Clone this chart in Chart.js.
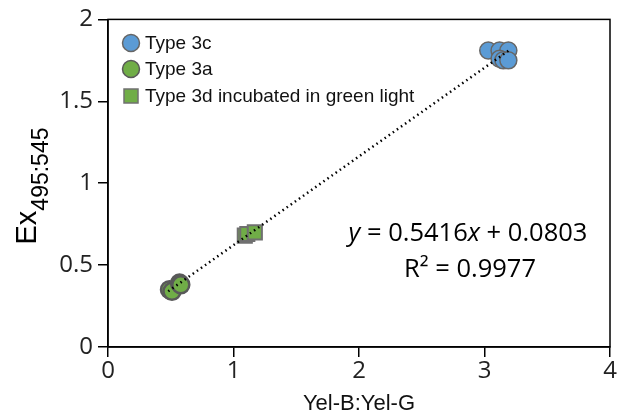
<!DOCTYPE html>
<html>
<head>
<meta charset="utf-8">
<script src="https://cdn.jsdelivr.net/npm/chart.js@4/dist/chart.umd.min.js"></script>
<style>
  html, body { margin: 0; padding: 0; background: #fff; }
  #wrap { width: 622px; height: 417px; }
</style>
</head>
<body>
<div id="wrap"><canvas id="grafico" width="622" height="417"></canvas></div>
<script>
// valores
var type3cX = [3.03, 3.12, 3.19, 3.12, 3.15, 3.19]
var type3cY = [1.81, 1.81, 1.81, 1.76, 1.75, 1.75]
var type3aX = [0.49, 0.51, 0.57, 0.58]
var type3aY = [0.35, 0.34, 0.39, 0.38]
var type3dX = [1.09, 1.11, 1.17]
var type3dY = [0.68, 0.69, 0.70]
var slope = 0.5416
var intercept = 0.0803
var rSquared = 0.9977
var trendX = [0.48, 3.2]
var xTicks = [0, 1, 2, 3, 4]
var yTicks = [0, 0.5, 1, 1.5, 2]
var legendLabels = ["Type 3c", "Type 3a", "Type 3d incubated in green light"]

function pares(xs, ys){
    return xs.map(function(x, i){ return { x: x, y: ys[i] } })
}

var trendData = trendX.map(function(x){ return { x: x, y: slope * x + intercept } })

var tickFont = { family: "Open Sans", size: 24 }

// caixa em volta da area, legenda, titulo y e equacao
var extras = {
    id: "extras",
    afterDraw: function(chart){
        var ctx = chart.ctx
        var a = chart.chartArea
        ctx.save()
        ctx.strokeStyle = "#000"
        ctx.lineWidth = 1.5
        ctx.strokeRect(a.left, a.top, a.right - a.left, a.bottom - a.top)

        // legenda
        var ds = chart.data.datasets
        var ly = [43, 69, 96]
        ctx.font = "19px 'Liberation Sans'"
        ctx.textBaseline = "middle"
        for (var i = 0; i < 3; i++) {
            var d = ds[i + 1]
            ctx.fillStyle = d.backgroundColor
            ctx.strokeStyle = d.borderColor
            ctx.lineWidth = 1.5
            ctx.beginPath()
            if (d.pointStyle === "rect") {
                ctx.rect(124, ly[i] - 7, 14, 14)
            } else {
                ctx.arc(131, ly[i], 8.5, 0, Math.PI * 2)
            }
            ctx.fill()
            ctx.stroke()
            ctx.fillStyle = "#111"
            ctx.fillText(legendLabels[i], 145, ly[i] + 1)
        }

        // titulo do eixo y com subscrito
        ctx.save()
        ctx.translate(36, 186)
        ctx.rotate(-Math.PI / 2)
        ctx.textBaseline = "alphabetic"
        ctx.textAlign = "left"
        ctx.font = "29px 'Liberation Sans'"
        var w1 = ctx.measureText("Ex").width
        ctx.font = "23px 'Liberation Sans'"
        var w2 = ctx.measureText("495:545").width
        var x0 = -(w1 + w2) / 2
        ctx.fillStyle = "#000"
        ctx.font = "29px 'Liberation Sans'"
        ctx.fillText("Ex", x0, 0)
        ctx.font = "23px 'Liberation Sans'"
        ctx.fillText("495:545", x0 + w1, 12)
        ctx.restore()

        // equacao
        var partes = [
            ["y", true], [" = " + slope.toFixed(4), false], ["x", true], [" + " + intercept.toFixed(4), false]
        ]
        var fs = "25.5px 'Open Sans'"
        var total = 0
        partes.forEach(function(p){
            ctx.font = (p[1] ? "italic " : "") + fs
            total += ctx.measureText(p[0]).width
        })
        var cx = 468
        var px = cx - total / 2
        ctx.fillStyle = "#000"
        ctx.textAlign = "left"
        ctx.textBaseline = "alphabetic"
        partes.forEach(function(p){
            ctx.font = (p[1] ? "italic " : "") + fs
            ctx.fillText(p[0], px, 241)
            px += ctx.measureText(p[0]).width
        })
        ctx.font = fs
        ctx.textAlign = "center"
        ctx.fillText("R\u00B2 = " + rSquared.toFixed(4), cx + 2, 277)
        ctx.restore()
    }
}

var rp = document.getElementById("grafico")

new Chart(rp, {
    type: "scatter",
    data: {
        datasets: [{
            label: "trend",
            data: trendData,
            showLine: true,
            borderColor: "#000",
            borderWidth: 2.5,
            borderDash: [1.5, 3.5],
            pointRadius: 0,
            fill: false,
            order: 0
        }, {
            label: legendLabels[0],
            data: pares(type3cX, type3cY),
            backgroundColor: "#5b9bd5",
            borderColor: "#666",
            borderWidth: 1.5,
            pointRadius: 8.5,
            order: 1
        }, {
            label: legendLabels[1],
            data: pares(type3aX, type3aY),
            backgroundColor: "#70ad47",
            borderColor: "#595959",
            borderWidth: 2.5,
            pointRadius: 8.5,
            order: 2
        }, {
            label: legendLabels[2],
            data: pares(type3dX, type3dY),
            backgroundColor: "#70ad47",
            borderColor: "#707070",
            borderWidth: 2,
            pointStyle: "rect",
            pointRadius: 10,
            order: 3
        }]
    },
    options: {
        responsive: false,
        animation: false,
        layout: { padding: { left: 0, top: 18, right: 10, bottom: 0 } },
        plugins: {
            legend: { display: false },
            tooltip: { enabled: false }
        },
        scales: {
            x: {
                type: "linear",
                min: 0, max: 4,
                afterBuildTicks: function(s){ s.ticks = xTicks.map(function(v){ return { value: v } }) },
                afterFit: function(s){ s.height = 70 },
                grid: { drawOnChartArea: false, drawTicks: true, tickLength: 10, color: "#000", lineWidth: 1.5 },
                border: { display: true, color: "#000", width: 1.5 },
                ticks: { color: "#222", font: tickFont, padding: 0, maxRotation: 0, callback: function(v){ return String(v) } },
                title: { display: true, text: "Yel-B:Yel-G", color: "#111", font: { family: "Liberation Sans", size: 22 }, padding: { top: 0, bottom: 0 } }
            },
            y: {
                type: "linear",
                min: 0, max: 2,
                afterBuildTicks: function(s){ s.ticks = yTicks.map(function(v){ return { value: v } }) },
                afterFit: function(s){ s.width = 108 },
                grid: { drawOnChartArea: false, drawTicks: true, tickLength: 10, color: "#000", lineWidth: 1.5 },
                border: { display: true, color: "#000", width: 1.5 },
                ticks: { color: "#222", font: tickFont, padding: 5, callback: function(v){ return String(v) } }
            }
        }
    },
    plugins: [extras]
})
</script>
</body>
</html>
